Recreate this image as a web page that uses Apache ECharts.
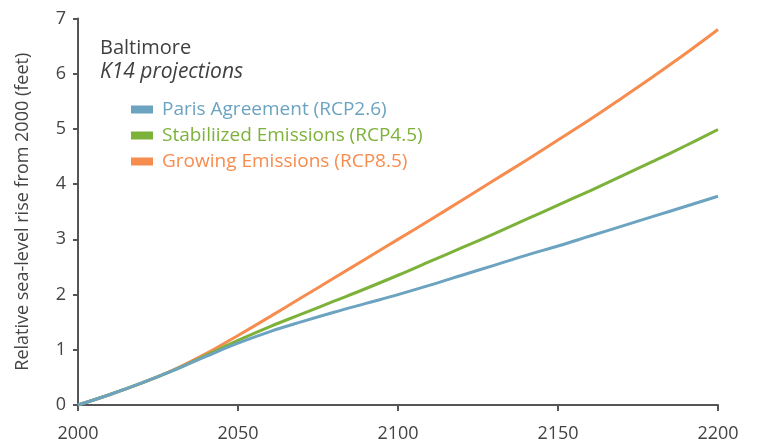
<!DOCTYPE html>
<html lang="en">
  <head>
    <meta charset="UTF-8" />
    <title>Baltimore K14 projections</title>
    <script src="https://cdn.jsdelivr.net/npm/echarts@6/dist/echarts.min.js"></script>
    <style>
      html, body { margin: 0; padding: 0; background: #fff; }
      #main { width: 757px; height: 443px; }
    </style>
  </head>
  <body>
    <div id="main"></div>

    <script>
      // years every 10 from 2000 to 2200
      var years = [2000, 2010, 2020, 2030, 2040, 2050, 2060, 2070, 2080, 2090, 2100,
                   2110, 2120, 2130, 2140, 2150, 2160, 2170, 2180, 2190, 2200];
      var rcp26 = [0, 0.19, 0.40, 0.63, 0.88, 1.12, 1.33, 1.51, 1.68, 1.84, 2.0,
                   2.17, 2.35, 2.53, 2.71, 2.88, 3.06, 3.24, 3.42, 3.60, 3.78];
      var rcp45 = [0, 0.19, 0.40, 0.63, 0.90, 1.17, 1.42, 1.65, 1.88, 2.11, 2.35,
                   2.60, 2.85, 3.10, 3.36, 3.62, 3.88, 4.15, 4.42, 4.70, 4.99];
      var rcp85 = [0, 0.19, 0.40, 0.64, 0.93, 1.26, 1.60, 1.95, 2.30, 2.65, 3.0,
                   3.35, 3.71, 4.07, 4.43, 4.80, 5.17, 5.56, 5.96, 6.37, 6.80];
      var names = ["Paris Agreement (RCP2.6)", "Stabiliized Emissions (RCP4.5)", "Growing Emissions (RCP8.5)"];
      var colors = ["#6ba3c0", "#7db23a", "#f78c4f"];

      var font = "'Open Sans', 'Noto Sans', sans-serif";
      var axisColor = "#555555";

      function pairs(vals) {
        return years.map(function (y, i) { return [y, vals[i]]; });
      }

      var myChart = echarts.init(document.getElementById("main"));

      var option = {
        animation: false,
        textStyle: { fontFamily: font },
        title: {
          text: "Baltimore",
          subtext: "K14 projections",
          left: 100,
          top: 38,
          padding: 0,
          itemGap: 4,
          textStyle: { fontFamily: font, fontSize: 20, fontWeight: "normal", color: "#404040" },
          subtextStyle: { fontFamily: font, fontSize: 21, fontStyle: "italic", color: "#404040" }
        },
        legend: {
          orient: "vertical",
          left: 131,
          top: 100,
          padding: 0,
          itemWidth: 22,
          itemHeight: 8,
          itemGap: 7,
          icon: "rect",
          textStyle: { fontFamily: font, fontSize: 19, padding: [0, 0, 0, 4] },
          data: names.map(function (n, i) {
            return { name: n, textStyle: { color: colors[i] } };
          })
        },
        grid: { left: 78, right: 39, top: 18.5, bottom: 36 },
        xAxis: {
          type: "value",
          min: 2000,
          max: 2200,
          interval: 50,
          splitLine: { show: false },
          axisLine: { lineStyle: { color: axisColor, width: 2 } },
          axisTick: { show: true, length: 6, lineStyle: { color: axisColor, width: 2 } },
          axisLabel: {
            color: "#444", fontSize: 18, fontFamily: font, margin: 20,
            formatter: function (v) { return String(v); }
          }
        },
        yAxis: {
          type: "value",
          min: 0,
          max: 7,
          interval: 1,
          name: "Relative sea-level rise from 2000 (feet)",
          nameLocation: "middle",
          nameGap: 46,
          nameTextStyle: { color: "#444", fontSize: 18, fontFamily: font },
          splitLine: { show: false },
          axisLine: { show: true, lineStyle: { color: axisColor, width: 2 } },
          axisTick: { show: true, length: 5, lineStyle: { color: axisColor, width: 2 } },
          axisLabel: { color: "#444", fontSize: 18, fontFamily: font, margin: 12 }
        },
        series: [
          { name: names[0], type: "line", data: pairs(rcp26), z: 4 },
          { name: names[1], type: "line", data: pairs(rcp45), z: 3 },
          { name: names[2], type: "line", data: pairs(rcp85), z: 2 }
        ].map(function (s, i) {
          s.smooth = 0.4;
          s.showSymbol = false;
          s.symbol = "none";
          s.color = colors[i];
          s.lineStyle = { color: colors[i], width: 3 };
          return s;
        })
      };

      myChart.setOption(option);
    </script>
  </body>
</html>
